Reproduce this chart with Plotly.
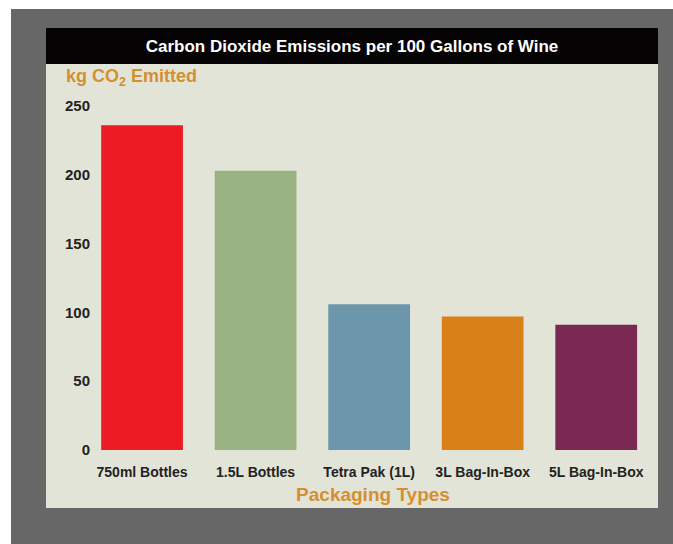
import plotly.graph_objects as go

categories = ["750ml Bottles", "1.5L Bottles", "Tetra Pak (1L)", "3L Bag-In-Box", "5L Bag-In-Box"]
emissions = [236, 203, 106, 97, 91]
bar_colors = ["#ec1c24", "#98b282", "#6b96ab", "#d98018", "#7a2a52"]
y_ticks = [0, 50, 100, 150, 200, 250]

W, H = 673, 544
L, R, T, B = 93, 20, 106, 94
pw, ph = W - L - R, H - T - B

def px(x):
    return (x - L) / pw

def py(y):
    return (H - B - y) / ph

fig = go.Figure(go.Bar(
    x=categories, y=emissions,
    marker=dict(color=bar_colors, line=dict(width=0)),
    width=0.72,
))

shapes = [
    dict(type="rect", xref="paper", yref="paper", x0=px(11), x1=px(673), y0=py(9), y1=py(544),
         fillcolor="#676767", line=dict(width=0), layer="below"),
    dict(type="rect", xref="paper", yref="paper", x0=px(46), x1=px(658), y0=py(64), y1=py(508),
         fillcolor="#e3e4d8", line=dict(width=0), layer="below"),
    dict(type="rect", xref="paper", yref="paper", x0=px(46), x1=px(658), y0=py(28), y1=py(64),
         fillcolor="#050303", line=dict(width=0), layer="below"),
]

orange = "#d4902f"
fig.update_layout(
    width=W, height=H,
    margin=dict(l=L, r=R, t=T, b=B),
    paper_bgcolor="white",
    plot_bgcolor="rgba(0,0,0,0)",
    shapes=shapes,
    showlegend=False,
    title=dict(
        text="Carbon Dioxide Emissions per 100 Gallons of Wine",
        x=352 / W, xref="container", xanchor="center",
        y=1 - 46 / H, yref="container", yanchor="middle",
        font=dict(family="Liberation Sans, Arial", size=17, color="white", weight="bold"),
    ),
    xaxis=dict(
        range=[-0.432, 4.5],
        showgrid=False, zeroline=False, showline=False,
        ticks="", ticklabelstandoff=12,
        tickfont=dict(family="Liberation Sans, Arial", size=14, color="#222222", weight="bold"),
        title=dict(text="Packaging Types", standoff=8,
                   font=dict(family="Liberation Sans, Arial", size=19, color=orange, weight="bold")),
    ),
    yaxis=dict(
        range=[0, 250],
        tickvals=y_ticks,
        showgrid=False, zeroline=False, showline=False,
        ticks="", ticklabelstandoff=2,
        tickfont=dict(family="Liberation Sans, Arial", size=15, color="#222222", weight="bold"),
    ),
    annotations=[
        dict(text="kg CO<sub>2</sub> Emitted", xref="paper", yref="paper",
             x=px(64), y=py(77), xanchor="left", yanchor="middle", showarrow=False,
             font=dict(family="Liberation Sans, Arial", size=18, color=orange, weight="bold")),
    ],
)

fig.write_html("out.html")
